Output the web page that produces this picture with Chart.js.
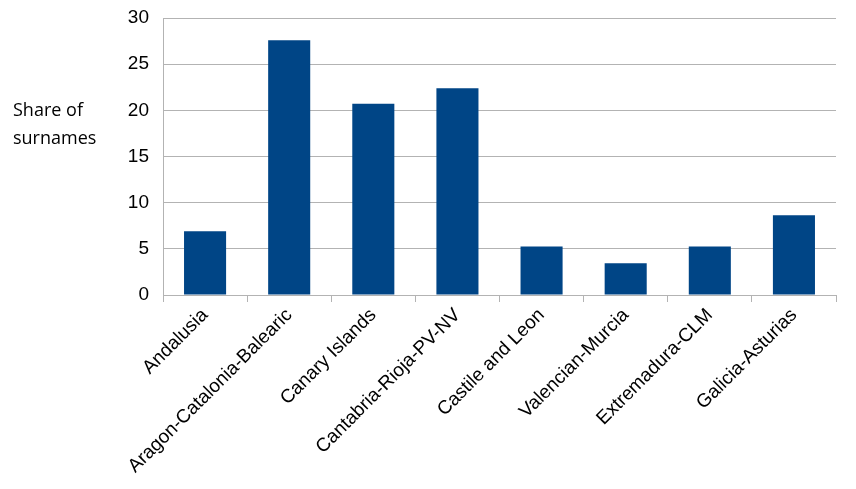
<!DOCTYPE html>
<html>
<head>
<meta charset="utf-8">
<script src="https://cdn.jsdelivr.net/npm/chart.js@4/dist/chart.umd.min.js"></script>
<style>
  html, body { margin: 0; padding: 0; background: #fff; }
  #wrap { width: 856px; height: 489px; position: relative; }
</style>
</head>
<body>
<div id="wrap"><canvas id="chart"></canvas></div>
<script>
const regions = ["Andalusia", "Aragon-Catalonia-Balearic", "Canary Islands", "Cantabria-Rioja-PV-NV",
  "Castile and Leon", "Valencian-Murcia", "Extremadura-CLM", "Galicia-Asturias"];
const shares = [6.9, 27.6, 20.7, 22.4, 5.25, 3.45, 5.25, 8.65];
const yTitle = ["Share of", "surnames"];

const gridCol = "#b3b3b3";

// draws the horizontal y title at the left
const sideTitle = {
  id: "sideTitle",
  afterDraw(chart) {
    const ctx = chart.ctx;
    ctx.save();
    ctx.font = "18px 'Open Sans'";
    ctx.fillStyle = "#000";
    ctx.textBaseline = "alphabetic";
    ctx.fillText(yTitle[0], 13, 116);
    ctx.fillText(yTitle[1], 13, 144);
    ctx.restore();
  }
};

new Chart(document.getElementById("chart").getContext("2d"), {
  type: "bar",
  data: {
    labels: regions,
    datasets: [{
      data: shares,
      backgroundColor: "#004586",
      barPercentage: 0.5,
      categoryPercentage: 1.0
    }]
  },
  options: {
    responsive: true,
    maintainAspectRatio: false,
    animation: false,
    layout: { padding: { top: 18, right: 20, left: 0, bottom: 0 } },
    plugins: { legend: { display: false }, tooltip: { enabled: false } },
    scales: {
      x: {
        offset: true,
        grid: {
          offset: true,
          color: (c) => c.index === regions.length ? gridCol : "rgba(0,0,0,0)",
          tickColor: gridCol,
          tickLength: 7,
          lineWidth: 1
        },
        border: { color: gridCol },
        ticks: {
          color: "#000",
          font: { family: "'Liberation Sans'", size: 19 },
          maxRotation: 45,
          minRotation: 45,
          autoSkip: false,
          padding: 2
        },
        afterFit(axis) { axis.height = 194; }
      },
      y: {
        min: 0,
        max: 30,
        ticks: {
          stepSize: 5,
          color: "#000",
          font: { family: "'Liberation Sans'", size: 19 },
          padding: 14
        },
        grid: { color: gridCol, drawTicks: false },
        border: { color: gridCol },
        afterFit(axis) {
          axis.width = 163;
          axis.paddingTop = 0;
          axis.paddingBottom = 0;
        }
      }
    }
  },
  plugins: [sideTitle]
});
</script>
</body>
</html>
